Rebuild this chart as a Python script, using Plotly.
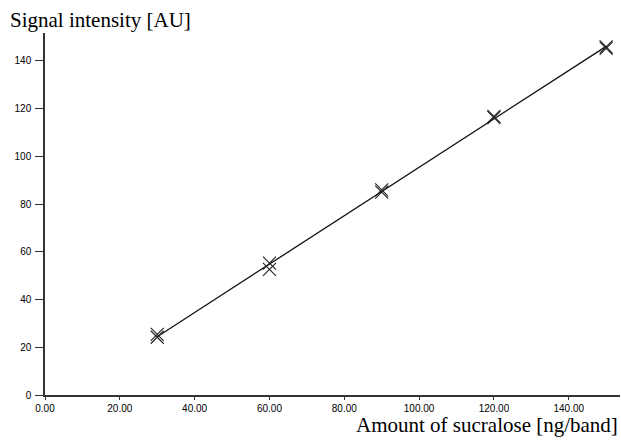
import numpy as np
import plotly.graph_objects as go

# Calibration data: amount applied vs. measured signal (duplicate bands)
amount_ng = [30, 30, 60, 60, 90, 90, 120, 120, 150, 150]
signal_au = [24.2, 25.4, 55.3, 52.6, 85.0, 86.0, 116.2, 116.8, 145.3, 145.9]

x_ticks = [0, 20, 40, 60, 80, 100, 120, 140]
x_tick_text = ["0.00", "20.00", "40.00", "60.00", "80.00", "100.00", "120.00", "140.00"]
y_ticks = [0, 20, 40, 60, 80, 100, 120, 140]

# Linear regression line over the calibrated range
slope, intercept = np.polyfit(amount_ng, signal_au, 1)
fit_x = [min(amount_ng), max(amount_ng)]
fit_y = [slope * v + intercept for v in fit_x]

fig = go.Figure()
fig.add_trace(go.Scatter(
    x=fit_x, y=fit_y, mode="lines",
    line=dict(color="#111111", width=1.3),
    showlegend=False, hoverinfo="skip",
))
fig.add_trace(go.Scatter(
    x=amount_ng, y=signal_au, mode="markers",
    marker=dict(symbol="x-thin", size=13, line=dict(color="#222222", width=1.1)),
    showlegend=False,
))

tick_font = dict(family="Liberation Sans, Arial, sans-serif", size=10, color="#000000")
title_font = dict(family="Liberation Serif, Times New Roman, serif", size=21, color="#000000")

fig.update_layout(
    width=621, height=445,
    margin=dict(l=45, r=1, t=33, b=50),
    paper_bgcolor="white", plot_bgcolor="white",
    xaxis=dict(
        range=[0, 153.7], tickvals=x_ticks, ticktext=x_tick_text,
        showgrid=False, zeroline=False, showline=True,
        linecolor="#333333", linewidth=2,
        ticks="outside", ticklen=3, tickwidth=1, tickcolor="#333333",
        ticklabelstandoff=0,
        tickfont=tick_font,
    ),
    yaxis=dict(
        range=[0, 151.7], tickvals=y_ticks,
        showgrid=False, zeroline=False, showline=True,
        linecolor="#333333", linewidth=1.5,
        ticks="outside", ticklen=8, tickwidth=1, tickcolor="#333333",
        ticklabelstandoff=2,
        tickfont=tick_font,
    ),
    annotations=[
        dict(text="Signal intensity [AU]", xref="paper", yref="paper",
             x=-0.064, y=1.036, xanchor="left", yanchor="middle",
             showarrow=False, font=title_font),
        dict(text="Amount of sucralose [ng/band]", xref="paper", yref="paper",
             x=1.0, y=-0.082, xanchor="right", yanchor="middle",
             showarrow=False, font=title_font),
    ],
)

fig.write_html("out.html")
